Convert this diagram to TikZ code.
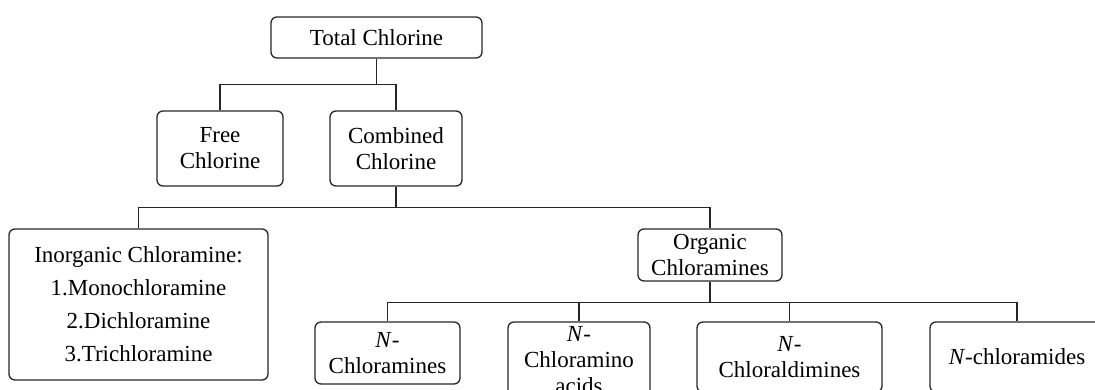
\documentclass[tikz,border=0pt]{standalone}
\usepackage{fontspec}
\setmainfont{Liberation Serif}
\begin{document}
\begin{tikzpicture}[x=1pt,y=-1pt,
  box/.style={draw=black!85, line width=1.3pt, rounded corners=6pt, rectangle, inner sep=0pt, align=center,
    font=\fontsize{23}{26}\selectfont},
  conn/.style={draw=black!85, line width=1.3pt}]
\useasboundingbox (0,0) rectangle (1095,389);
\clip (0,0) rectangle (1095,389);
\node[box, minimum width=211pt, minimum height=41pt] (total) at (376.5,37.5) {Total Chlorine};
\node[box, minimum width=126pt, minimum height=75pt] (free) at (220,148.5) {Free\\Chlorine};
\node[box, minimum width=132pt, minimum height=75pt] (comb) at (396,148.5) {Combined\\Chlorine};
\node[box, minimum width=259pt, minimum height=151pt, font=\fontsize{23}{33}\selectfont] (inorg) at (138.5,304.5)
  {Inorganic Chloramine:\\1.Monochloramine\\2.Dichloramine\\3.Trichloramine};
\node[box, minimum width=144pt, minimum height=52pt] (org) at (710,255) {Organic\\Chloramines};
\node[box, minimum width=145pt, minimum height=62pt] (ncl) at (387.5,353) {\textit{N}-\\Chloramines};
\node[box, minimum width=142pt, minimum height=76pt] (amino) at (579,360) {\textit{N}-\\Chloramino\\acids};
\node[box, minimum width=185pt, minimum height=70pt] (ald) at (789.5,357) {\textit{N}-\\Chloraldimines};
\node[box, minimum width=174pt, minimum height=70pt] (amide) at (1017,357) {\textit{N}-chloramides};
\draw[conn] (total.south) -- ++(0,26) coordinate (j1);
\draw[conn] (j1) -| (free.north);
\draw[conn] (j1) -| (comb.north);
\draw[conn] (comb.south) -- ++(0,21) coordinate (j2);
\draw[conn] (j2) -| (inorg.north);
\draw[conn] (j2) -| (org.north);
\draw[conn] (org.south) -- ++(0,21) coordinate (j3);
\draw[conn] (j3) -| (ncl.north);
\draw[conn] (j3) -| (amino.north);
\draw[conn] (j3) -| (ald.north);
\draw[conn] (j3) -| (amide.north);
\end{tikzpicture}
\end{document}
